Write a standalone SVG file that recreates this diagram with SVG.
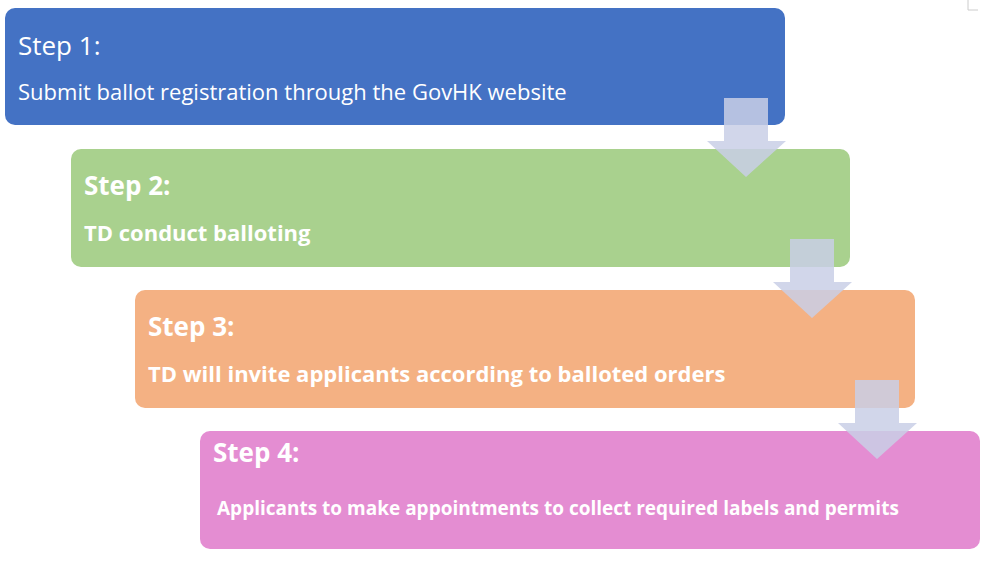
<svg xmlns="http://www.w3.org/2000/svg" width="990" height="565" viewBox="0 0 990 565">
<style>
text{font-family:"Open Sans","Noto Sans","Liberation Sans",sans-serif;fill:#fff}
.h{font-size:26px}
.b{font-weight:bold}
.t{font-size:22px}
.arr{fill:#c9cfe6;fill-opacity:0.85}
</style>
<rect width="990" height="565" fill="#fff"/>
<path d="M968 0V10H978" fill="none" stroke="#ccc" stroke-width="1"/>
<g id="step1"><rect x="5" y="8" width="780" height="117" rx="10" fill="#4472c4"/>
<text x="18" y="55" class="h">Step 1:</text>
<text x="18" y="100" class="t">Submit ballot registration through the GovHK website</text></g>
<g id="step2"><rect x="71" y="149" width="779" height="118" rx="10" fill="#a9d18e"/>
<text x="84" y="195" class="h b">Step 2:</text>
<text x="84" y="241" class="t b">TD conduct balloting</text></g>
<g id="step3"><rect x="135" y="290" width="780" height="118" rx="10" fill="#f4b183"/>
<text x="148" y="336" class="h b">Step 3:</text>
<text x="148" y="382" class="t b">TD will invite applicants according to balloted orders</text></g>
<g id="step4"><rect x="200" y="431" width="780" height="118" rx="10" fill="#e48dd2"/>
<text x="213" y="462" class="h b">Step 4:</text>
<text x="217" y="515" class="b" font-size="19">Applicants to make appointments to collect required labels and permits</text></g>
<g id="connectors">
<path class="arr" d="M724 98H768V141H786L746 177L707 141H724Z"/>
<path class="arr" d="M790 239H834V282H852L812 318L773 282H790Z"/>
<path class="arr" d="M855 380H899V423H917L877 459L838 423H855Z"/>
</g>
</svg>
